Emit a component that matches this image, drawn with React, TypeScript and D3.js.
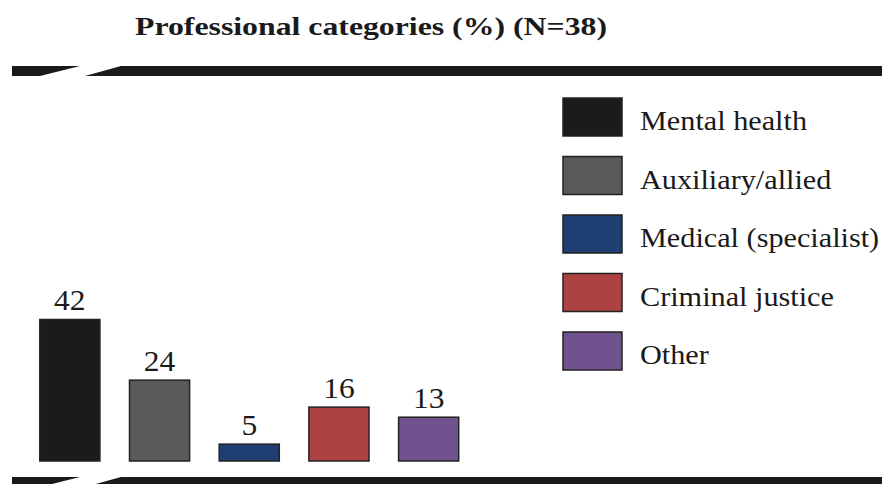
import React from "react";
import * as d3 from "d3";

const categories = ["Mental health", "Auxiliary/allied", "Medical (specialist)", "Criminal justice", "Other"];
const values = [42, 24, 5, 16, 13];
const colors = ["#1b1b1b", "#5a5a5a", "#1f3e72", "#ad4242", "#70528f"];
const title = "Professional categories (%) (N=38)";

const W = 883;
const H = 484;
const FONT = '"Liberation Serif", "Times New Roman", Tinos, "DejaVu Serif", serif';

function breakLine(y0: number, y1: number) {
  const left: [number, number][] = [[12, y0], [80, y0], [40, y1], [12, y1]];
  const right: [number, number][] = [[85, y1], [121, y0], [882, y0], [882, y1]];
  const line = d3.line().curve(d3.curveLinearClosed);
  return [line(left) as string, line(right) as string];
}

export default function App() {
  const x = d3.scaleBand<string>().domain(categories).range([25, 473.5]).paddingInner(0.33).paddingOuter(0.165);
  const y = d3.scaleLinear().domain([0, 42]).range([461, 319.5]);
  const top = breakLine(66, 76);
  const bottom = breakLine(477, 487);
  const ts = { fontFamily: FONT };
  return (
    <svg width={W} height={H} style={{ position: "absolute", left: 0, top: 0, background: "#fff", fontFamily: FONT }}>
      <rect x={0} y={0} width={W} height={H} fill="#fff" />
      <text x={135} y={35} style={ts} fontSize={25} fontWeight="bold" fill="#1a1a1a" textLength={472} lengthAdjust="spacingAndGlyphs">{title}</text>
      {top.map((d, i) => <path key={"t" + i} d={d} fill="#1a1a1a" />)}
      {bottom.map((d, i) => <path key={"b" + i} d={d} fill="#1a1a1a" />)}
      {categories.map((c, i) => (
        <g key={c}>
          <rect x={x(c)} y={y(values[i])} width={x.bandwidth()} height={y(0) - y(values[i])} fill={colors[i]} stroke="#222" strokeWidth={1.5} />
          <text transform={`translate(${(x(c) as number) + x.bandwidth() / 2},${y(values[i]) - 9.5}) scale(1.05,1)`} style={ts} fontSize={30} textAnchor="middle" fill="#1a1a1a">{values[i]}</text>
        </g>
      ))}
      {categories.map((c, i) => (
        <g key={"l" + c} transform={`translate(563, ${98 + i * 58.5})`}>
          <rect x={0} y={0} width={59} height={38} fill={colors[i]} stroke="#222" strokeWidth={1.5} />
          <text transform="translate(77,32) scale(1.08,1)" style={ts} fontSize={28} fill="#1a1a1a">{c}</text>
        </g>
      ))}
    </svg>
  );
}
